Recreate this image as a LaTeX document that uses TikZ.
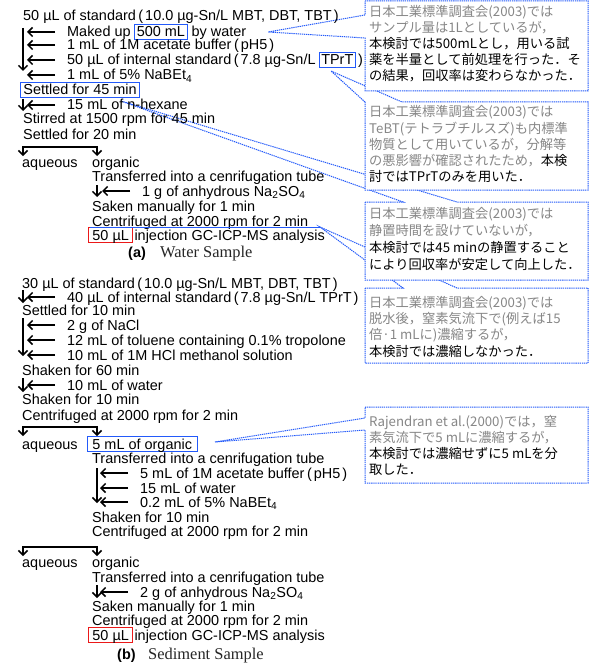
\documentclass[tikz,border=0pt]{standalone}
\usepackage{fontspec}
\setmainfont{Liberation Sans}
\newfontfamily\cjk{Noto Sans CJK JP}
\newfontfamily\capserif{Liberation Serif}
\usetikzlibrary{arrows.meta}
\definecolor{cblue}{RGB}{35,90,250}
\definecolor{cgray}{RGB}{135,135,135}
\definecolor{cred}{RGB}{235,25,25}
\newcommand\lp{\kern2.5bp(\kern2bp}
\newcommand\rp{\kern2bp)}
\newcommand\subs[1]{\textsubscript{#1}}
\newcommand\larr[1]{\draw[arr] ([xshift=-12bp,yshift=5bp]#1.base west) -- ([xshift=-40bp,yshift=5bp]#1.base west);}
\begin{document}
\begin{tikzpicture}[x=1bp, y=-1bp,
  t/.style={inner sep=0pt, anchor=base west, font=\fontsize{14.5}{16}\selectfont},
  bx/.style={t, draw=cblue, line width=0.9bp, inner xsep=2bp, inner ysep=1.5bp, text height=11bp, text depth=1bp},
  rbx/.style={bx, draw=cred, inner xsep=4bp},
  ct/.style={inner sep=0pt, anchor=base west, font=\cjk\fontsize{13.3}{16}\selectfont, text=cgray},
  callout/.style={draw=cblue, line width=1bp, dash pattern=on 1.3bp off 0.8bp, fill=white},
  arr/.style={line width=1.5bp, -{Straight Barb[length=4.5bp,width=9bp]}},
  ln/.style={line width=1.5bp},
  lead/.style={draw=cblue, line width=0.9bp}
]
\useasboundingbox (0,0) rectangle (595,663);

% ---------- callouts (drawn bottom to top) ----------
% C5
\coordinate (c5tip) at (215,442);
\filldraw[callout] (365,407) -- (588,407) -- (588,483) -- (365,483) -- (365,430) -- (c5tip) -- (365,418) -- cycle;
% C4
\coordinate (c4tip) at (320,227);
\filldraw[callout] (365,288) -- (403,288) -- (c4tip) -- (457,288) -- (588,288) -- (588,363) -- (365,363) -- cycle;
% C3
\coordinate (c3tip) at (121,101);
\filldraw[callout] (365,202) -- (403,202) -- (c3tip) -- (457,202) -- (588,202) -- (588,280) -- (365,280) -- cycle;
% C2
\coordinate (c2tip) at (331,71);
\filldraw[callout] (365,102) -- (c2tip) -- (402,102) -- (588,102) -- (588,190) -- (365,190) -- cycle;
% C1
\coordinate (c1tip) at (268,32);
\filldraw[callout] (365,1) -- (588,1) -- (588,91) -- (365,91) -- (365,38) -- (c1tip) -- (365,15) -- cycle;

% callout texts
\node[ct] (k11) at (369,17) {日本工業標準調査会(2003)では};
\node[ct] (k12) at (369,33) {サンプル量は1Lとしているが，};
\node[ct,text=black] (k13) at (369,49) {本検討では500mLとし，用いる試};
\node[ct,text=black] (k14) at (369,65) {薬を半量として前処理を行った．そ};
\node[ct,text=black] (k15) at (369,81) {の結果，回収率は変わらなかった．};

\node[ct] (k21) at (369,117) {日本工業標準調査会(2003)では};
\node[ct] (k22) at (369,133) {TeBT(テトラブチルスズ)も内標準};
\node[ct] (k23) at (369,149) {物質として用いているが，分解等};
\node[ct] (k24) at (369,165) {の悪影響が確認されたため，\textcolor{black}{本検}};
\node[ct,text=black] (k25) at (369,181) {討ではTPrTのみを用いた．};

\node[ct] (k31) at (369,218) {日本工業標準調査会(2003)では};
\node[ct] (k32) at (369,235) {静置時間を設けていないが，};
\node[ct,text=black] (k33) at (369,252) {本検討では45 minの静置すること};
\node[ct,text=black] (k34) at (369,269) {により回収率が安定して向上した．};

\node[ct] (k41) at (369,307) {日本工業標準調査会(2003)では};
\node[ct] (k42) at (369,323) {脱水後，窒素気流下で(例えば15};
\node[ct] (k43) at (369,339) {倍·1 mLに)濃縮するが，};
\node[ct,text=black] (k44) at (369,356) {本検討では濃縮しなかった．};

\node[ct] (k51) at (369,426) {Rajendran et al.(2000)では，窒};
\node[ct] (k52) at (369,442) {素気流下で5 mLに濃縮するが，};
\node[ct,text=black] (k53) at (369,458) {本検討では濃縮せずに5 mLを分};
\node[ct,text=black] (k54) at (369,474) {取した．};

% ---------- (a) Water sample ----------
\node[t] (a1) at (23,21) {50 µL of standard\lp 10.0 µg-Sn/L MBT, DBT, TBT\rp};
\node[t] (a2) at (67,37) {Maked up};
\node[bx] (a2b) at ([xshift=3.5bp]a2.base east) {500 mL};
\node[t] (a2c) at ([xshift=4bp]a2b.base east) {by water};
\node[t] (a3) at (67,50) {1 mL of 1M acetate buffer\lp pH5\rp};
\node[t] (a4) at (67,65) {50 µL of internal standard\lp 7.8 µg-Sn/L};
\node[bx] (a4b) at ([xshift=3bp]a4.base east) {TPrT};
\node[t] (a4c) at (a4b.base east) {\rp};
\node[t] (a5) at (67,80) {1 mL of 5\% NaBEt\subs{4}};
\node[bx, inner xsep=3bp] (a6) at (20,95) {Settled for 45 min};
\node[t] (a7) at (67,110) {15 mL of n-hexane};
\node[t] (a8) at (23,124) {Stirred at 1500 rpm for 45 min};
\node[t] (a9) at (23,139) {Settled for 20 min};
\node[t] (a10) at (22,167) {aqueous};
\node[t] (a11) at (92,167) {organic};
\node[t] (a12) at (92,181) {Transferred into a cenrifugation tube};
\node[t] (a13) at (142,196) {1 g of anhydrous Na\subs{2}SO\subs{4}};
\node[t] (a14) at (92,211) {Saken manually for 1 min};
\node[t] (a15) at (92,226) {Centrifuged at 2000 rpm for 2 min};
\node[rbx] (a16) at (88,240) {50 µL};
\node[t] (a16b) at ([xshift=1bp]a16.base east) {injection GC-ICP-MS analysis};
\node[t, font=\bfseries\fontsize{14.5}{16}\selectfont] (capa) at (128,257) {(a)};
\node[t, font=\capserif\fontsize{16.5}{18}\selectfont, text=black!85] (capa2) at (160,257) {Water Sample};

% leader under centrifuged line
\draw[lead] (a15.base west) ++(-2,1) coordinate (l4a) -- (c4tip);

% arrows (a)
\larr{a2}\larr{a3}\larr{a4}\larr{a5}\larr{a7}
\coordinate (va1) at (23,28); \coordinate (va2) at (23,71);
\draw[arr] (va1) -- (va2);
\draw[arr] (23,99) -- (23,111);
\coordinate (sa1) at (23,147); \coordinate (sa2) at (97,147);
\draw[ln] (sa1) -- (sa2);
\draw[arr] (23,146) -- (23,156);
\draw[arr] (97,146) -- (97,156);
\larr{a13}
\draw[arr] (97,185) -- (97,197);

% ---------- (b) Sediment sample ----------
\node[t] (b1) at (22,288) {30 µL of standard\lp 10.0 µg-Sn/L MBT, DBT, TBT\rp};
\node[t] (b2) at (67,302) {40 µL of internal standard\lp 7.8 µg-Sn/L TPrT\rp};
\node[t] (b3) at (22,315) {Settled for 10 min};
\node[t] (b4) at (67,330) {2 g of NaCl};
\node[t] (b5) at (67,345) {12 mL of toluene containing 0.1\% tropolone};
\node[t] (b6) at (67,360) {10 mL of 1M HCl methanol solution};
\node[t] (b7) at (22,375) {Shaken for 60 min};
\node[t] (b8) at (67,390) {10 mL of water};
\node[t] (b9) at (22,404) {Shaken for 10 min};
\node[t] (b10) at (22,420) {Centrifuged at 2000 rpm for 2 min};
\node[t] (b11) at (22,449) {aqueous};
\node[bx, inner xsep=5bp] (b12) at (87,449) {5 mL of organic\hspace{17bp}};
\node[t] (b13) at (92,463) {Transferred into a cenrifugation tube};
\node[t] (b14) at (140,478) {5 mL of 1M acetate buffer\lp pH5\rp};
\node[t] (b15) at (140,493) {15 mL of water};
\node[t] (b16) at (140,507) {0.2 mL of 5\% NaBEt\subs{4}};
\node[t] (b17) at (92,522) {Shaken for 10 min};
\node[t] (b18) at (92,536) {Centrifuged at 2000 rpm for 2 min};
\node[t] (b19) at (22,567) {aqueous};
\node[t] (b20) at (92,567) {organic};
\node[t] (b21) at (92,582) {Transferred into a cenrifugation tube};
\node[t] (b22) at (140,597) {2 g of anhydrous Na\subs{2}SO\subs{4}};
\node[t] (b23) at (92,611) {Saken manually for 1 min};
\node[t] (b24) at (92,625) {Centrifuged at 2000 rpm for 2 min};
\node[rbx] (b25) at (88,640) {50 µL};
\node[t] (b25b) at ([xshift=1bp]b25.base east) {injection GC-ICP-MS analysis};
\node[t, font=\bfseries\fontsize{14.5}{16}\selectfont] (capb) at (117,659) {(b)};
\node[t, font=\capserif\fontsize{16.5}{18}\selectfont, text=black!85] (capb2) at (148,659) {Sediment Sample};

% arrows (b)
\larr{b2}\larr{b4}\larr{b5}\larr{b6}\larr{b8}
\draw[arr] (23,290) -- (23,303);
\draw[arr] (23,318) -- (23,356);
\draw[arr] (23,378) -- (23,392);
\draw[ln] (23,427) -- (97,427);
\draw[arr] (23,426) -- (23,436);
\draw[arr] (97,426) -- (97,436);
\larr{b14}\larr{b15}\larr{b16}
\draw[arr] (97,468) -- (97,503);
\draw[ln] (23,547) -- (97,547);
\draw[arr] (23,546) -- (23,556);
\draw[arr] (97,546) -- (97,556);
\larr{b22}
\draw[arr] (97,585) -- (97,598);
\end{tikzpicture}
\end{document}
